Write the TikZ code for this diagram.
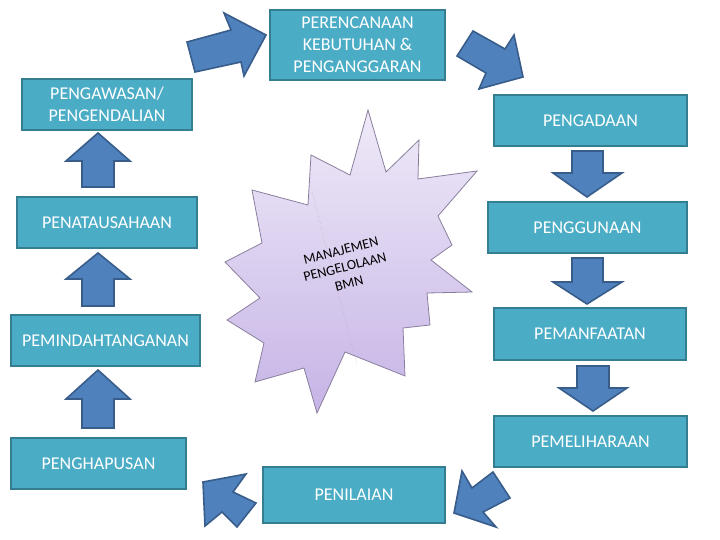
\documentclass[tikz,border=0pt]{standalone}
\usepackage{fontspec}
\setmainfont{Carlito}
\definecolor{boxfill}{HTML}{4BACC6}
\definecolor{boxline}{HTML}{357D91}
\definecolor{arrfill}{HTML}{4F81BD}
\definecolor{arrline}{HTML}{385D8A}
\definecolor{startop}{HTML}{EFEAF8}
\definecolor{starbot}{HTML}{C6B4E6}
\definecolor{starline}{HTML}{8A7E9E}
\begin{document}
\begin{tikzpicture}[x=1pt,y=-1pt,
  box/.style={draw=boxline,fill=boxfill,line width=1.6pt,text=white,
    font=\fontsize{18}{22}\selectfont,align=center,inner sep=2pt},
  barrow/.style={draw=arrline,fill=arrfill,line width=1.6pt,line join=miter}]
\useasboundingbox (0,0) rectangle (720,540);
\fill[white] (0,0) rectangle (720,540);
% boxes
\node[box,minimum width=175,minimum height=70] (plan) at (357.5,45) {PERENCANAAN\\KEBUTUHAN \&\\PENGANGGARAN};
\node[box,minimum width=193,minimum height=51] (adaan) at (590.5,120.5) {PENGADAAN};
\node[box,minimum width=199,minimum height=51] (guna) at (587.5,227.5) {PENGGUNAAN};
\node[box,minimum width=192,minimum height=52] (manfaat) at (590,334) {PEMANFAATAN};
\node[box,minimum width=193,minimum height=51] (pelihara) at (590.5,441.5) {PEMELIHARAAN};
\node[box,minimum width=182,minimum height=56] (nilai) at (354,495) {PENILAIAN};
\node[box,minimum width=175,minimum height=51] (hapus) at (98.5,463.5) {PENGHAPUSAN};
\node[box,minimum width=189,minimum height=51] (pindah) at (105.5,340.5) {PEMINDAHTANGANAN};
\node[box,minimum width=180,minimum height=51] (tata) at (107,222.5) {PENATAUSAHAAN};
\node[box,minimum width=170,minimum height=51] (awas) at (107,104.5) {PENGAWASAN/\\PENGENDALIAN};
% block arrows, right column (down)
\draw[barrow] (572,151) -- (603,151) -- (603,173) -- (622,173) -- (587,197) -- (553,173) -- (572,173) -- cycle;
\draw[barrow] (572,258) -- (603,258) -- (603,282) -- (622,282) -- (587,304) -- (553,282) -- (572,282) -- cycle;
\draw[barrow] (577,366) -- (609,366) -- (609,388) -- (627,388) -- (593,411) -- (559,388) -- (577,388) -- cycle;
% left column (up)
\draw[barrow] (82,187) -- (82,161) -- (66,161) -- (98,133) -- (130,161) -- (114,161) -- (114,187) -- cycle;
\draw[barrow] (82,306) -- (82,279) -- (66,279) -- (98,253) -- (130,279) -- (114,279) -- (114,306) -- cycle;
\draw[barrow] (82,428) -- (82,399) -- (66,399) -- (98,370) -- (130,399) -- (114,399) -- (114,428) -- cycle;
% diagonal arrows
\draw[barrow] (187,42) -- (231,30) -- (224,13) -- (266,35) -- (244,76) -- (241,62) -- (195,72) -- cycle;
\draw[barrow] (473,31) -- (505,49) -- (514,35) -- (523,77) -- (479,89) -- (486,73) -- (457,56) -- cycle;
\draw[barrow] (493,472) -- (510,498) -- (483,512) -- (496,527) -- (454,513) -- (462,471) -- (472,488) -- cycle;
\draw[barrow] (256,503) -- (237,527) -- (222,512) -- (205,526) -- (203,482) -- (246,474) -- (233,492) -- cycle;
% star
\shadedraw[top color=startop,bottom color=starbot,draw=starline,line width=0.8pt,line join=miter]
 (368,110) -- (386,172) -- (419,140) -- (418,179) -- (477,171) -- (438,216) -- (452,245) -- (431,260)
 -- (472,292) -- (427,293) -- (430,325) -- (403,328) -- (405,376) -- (345,352) -- (317,413) -- (304,368)
 -- (255,382) -- (264,343) -- (227,320) -- (260,298) -- (225,262) -- (262,243) -- (252,190) -- (308,205)
 -- (311,155) -- (350,175) -- cycle;
\draw[starline!70,dotted,line width=0.5pt] (312,192) -- (357,365);
\node[rotate=14,align=center,font=\fontsize{14}{17}\selectfont,text=black] (bmn) at (345,267) {MANAJEMEN\\PENGELOLAAN\\BMN};
\end{tikzpicture}
\end{document}
